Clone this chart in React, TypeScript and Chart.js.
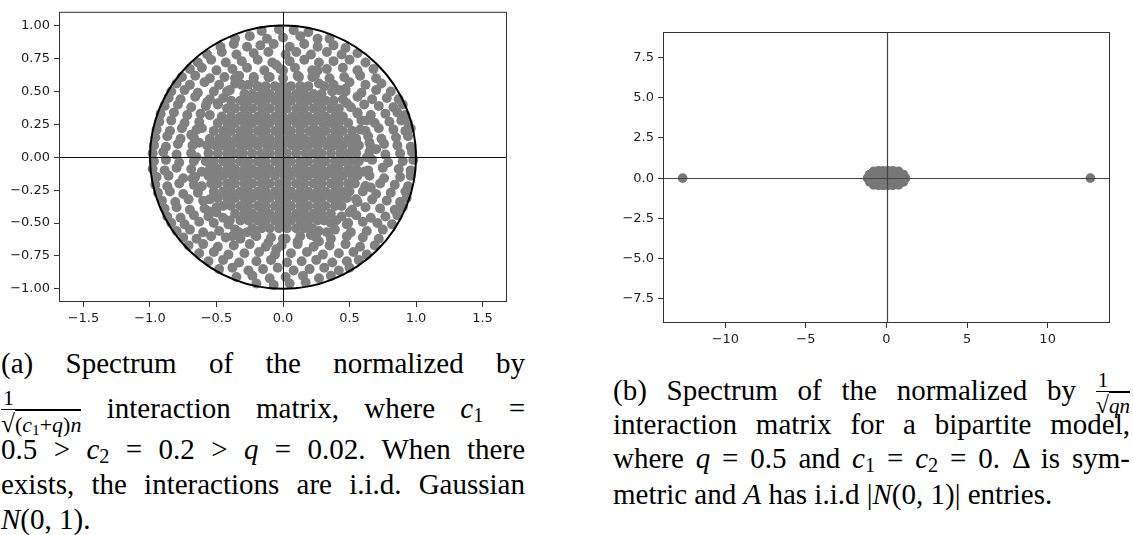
import React, { useEffect, useRef } from 'react';
import { Chart, registerables } from 'chart.js';

Chart.register(...registerables);

// ---------- Panel (a) data ----------
const A_X_TICKS = [-1.5, -1, -0.5, 0, 0.5, 1, 1.5];
const A_Y_TICKS = [-1, -0.75, -0.5, -0.25, 0, 0.25, 0.5, 0.75, 1];
const A_X_LIMITS = [-1.684, 1.684];
const A_Y_LIMITS = [-1.1, 1.105];
const A_CIRCLE_RADIUS = 1;

// dense core, listed row by row
const A_CORE_ROW_Y = [0.03, 0.09, 0.14, 0.2, 0.26, 0.31, 0.37, 0.43, 0.48, 0.54,
  -0.03, -0.09, -0.14, -0.2, -0.26, -0.31, -0.37, -0.43, -0.48, -0.54];
const A_CORE_ROW_X = [
  [-0.56, -0.49, -0.42, -0.36, -0.3, -0.23, -0.16, -0.1, -0.03, 0.03, 0.1, 0.17, 0.23, 0.29, 0.36, 0.43, 0.49, 0.55],
  [-0.57, -0.51, -0.45, -0.39, -0.32, -0.26, -0.19, -0.12, -0.06, 0, 0.07, 0.13, 0.19, 0.26, 0.33, 0.39, 0.45, 0.52, 0.57],
  [-0.55, -0.48, -0.42, -0.35, -0.29, -0.23, -0.16, -0.1, -0.03, 0.04, 0.1, 0.16, 0.23, 0.29, 0.36, 0.42, 0.49, 0.55],
  [-0.52, -0.45, -0.39, -0.32, -0.26, -0.19, -0.13, -0.06, 0, 0.06, 0.13, 0.2, 0.26, 0.32, 0.39, 0.45, 0.52],
  [-0.49, -0.42, -0.36, -0.29, -0.23, -0.16, -0.1, -0.03, 0.03, 0.1, 0.16, 0.23, 0.3, 0.36, 0.42, 0.49],
  [-0.46, -0.39, -0.32, -0.26, -0.19, -0.13, -0.06, 0, 0.07, 0.13, 0.19, 0.26, 0.32, 0.39, 0.45],
  [-0.42, -0.36, -0.29, -0.23, -0.16, -0.1, -0.03, 0.03, 0.1, 0.16, 0.23, 0.29, 0.36, 0.42],
  [-0.39, -0.32, -0.26, -0.19, -0.13, -0.06, 0, 0.06, 0.13, 0.19, 0.26, 0.32, 0.38],
  [-0.29, -0.23, -0.16, -0.1, -0.03, 0.03, 0.1, 0.16, 0.23, 0.29],
  [-0.19, -0.13, -0.06, 0, 0.06, 0.13, 0.19],
  [-0.58, -0.52, -0.45, -0.39, -0.32, -0.26, -0.19, -0.13, -0.06, 0, 0.06, 0.13, 0.19, 0.26, 0.32, 0.39, 0.45, 0.51, 0.57],
  [-0.55, -0.49, -0.42, -0.36, -0.29, -0.23, -0.16, -0.1, -0.03, 0.03, 0.1, 0.16, 0.23, 0.29, 0.36, 0.42, 0.49, 0.55],
  [-0.56, -0.51, -0.45, -0.38, -0.32, -0.26, -0.19, -0.13, -0.06, 0.01, 0.06, 0.13, 0.19, 0.26, 0.32, 0.39, 0.45, 0.52, 0.56],
  [-0.54, -0.49, -0.42, -0.36, -0.29, -0.23, -0.16, -0.1, -0.03, 0.03, 0.1, 0.16, 0.23, 0.29, 0.36, 0.42, 0.49, 0.54],
  [-0.52, -0.45, -0.39, -0.32, -0.26, -0.19, -0.13, -0.06, 0, 0.06, 0.13, 0.19, 0.26, 0.32, 0.39, 0.45, 0.5],
  [-0.49, -0.42, -0.36, -0.29, -0.23, -0.16, -0.1, -0.03, 0.03, 0.1, 0.16, 0.23, 0.29, 0.36, 0.42, 0.48],
  [-0.45, -0.39, -0.32, -0.26, -0.19, -0.13, -0.06, 0, 0.06, 0.13, 0.19, 0.26, 0.32, 0.39, 0.44],
  [-0.36, -0.29, -0.23, -0.16, -0.1, -0.03, 0.03, 0.1, 0.16, 0.23, 0.29, 0.36],
  [-0.32, -0.26, -0.19, -0.13, -0.06, 0, 0.06, 0.13, 0.19, 0.26, 0.31],
  [-0.23, -0.16, -0.1, -0.03, 0.03, 0.1, 0.16, 0.22],
];

// transition band just outside the core
const A_MID = [
  [0.63, 0], [0.65, 0.11], [0.58, 0.21], [0.56, 0.33], [0.48, 0.41], [0.42, 0.51], [0.31, 0.54], [0.22, 0.61], [0.11, 0.62], [0, 0.66],
  [-0.11, 0.61], [-0.22, 0.61], [-0.31, 0.55], [-0.42, 0.5], [-0.49, 0.41], [-0.55, 0.32], [-0.61, 0.22], [-0.63, 0.11], [-0.65, 0],
  [-0.61, -0.11], [-0.61, -0.22], [-0.55, -0.32], [-0.5, -0.42], [-0.4, -0.48], [-0.33, -0.57], [-0.21, -0.59], [-0.11, -0.65], [0, -0.62],
  [0.11, -0.64], [0.21, -0.59], [0.33, -0.57], [0.4, -0.48], [0.5, -0.42], [0.55, -0.32], [0.62, -0.22], [0.61, -0.11],
  [0.7, 0.06], [0.63, 0.28], [0.47, 0.5], [0.26, 0.66], [-0.05, 0.7], [-0.36, 0.6], [-0.57, 0.42], [-0.69, 0.17],
  [-0.68, -0.16], [-0.56, -0.41], [-0.38, -0.6], [-0.05, -0.7], [0.27, -0.64], [0.49, -0.5], [0.66, -0.23],
];

// sparser outer ring of eigenvalues
const A_RING = [
  [-0.16, 0.96], [-0.03, 0.97], [0.08, 0.965], [0.19, 0.95],
  [-0.36, 0.9], [-0.25, 0.92], [-0.12, 0.9], [0, 0.91], [0.13, 0.92], [0.26, 0.9], [0.35, 0.9],
  [-0.47, 0.84], [-0.37, 0.86], [-0.27, 0.84], [-0.17, 0.85], [-0.07, 0.86], [0.05, 0.84], [0.16, 0.86], [0.26, 0.84], [0.38, 0.85], [0.47, 0.83],
  [-0.57, 0.78], [-0.46, 0.8], [-0.35, 0.78], [-0.22, 0.79], [-0.11, 0.8], [0.02, 0.78], [0.1, 0.8], [0.21, 0.78], [0.33, 0.8], [0.44, 0.78], [0.56, 0.79],
  [-0.64, 0.72], [-0.54, 0.74], [-0.43, 0.72], [-0.31, 0.73], [-0.19, 0.74], [-0.08, 0.72], [0.05, 0.73], [0.16, 0.74], [0.27, 0.72], [0.38, 0.73], [0.5, 0.74], [0.62, 0.72],
  [-0.7, 0.67], [-0.61, 0.68], [-0.5, 0.66], [-0.38, 0.67], [-0.27, 0.68], [-0.14, 0.66], [-0.02, 0.67], [0.09, 0.68], [0.22, 0.66], [0.33, 0.67], [0.45, 0.68], [0.56, 0.66], [0.68, 0.67],
  [-0.76, 0.61], [-0.66, 0.62], [-0.55, 0.6], [-0.44, 0.61], [-0.33, 0.62], [-0.22, 0.6], [-0.1, 0.61], [0, 0.6], [0.12, 0.61], [0.24, 0.62], [0.35, 0.6], [0.46, 0.61], [0.58, 0.62], [0.7, 0.6],
  [-0.8, 0.56], [-0.7, 0.55], [-0.59, 0.57], [-0.48, 0.55], [-0.36, 0.56], [-0.26, 0.55], [0.27, 0.56], [0.38, 0.55], [0.5, 0.57], [0.62, 0.55], [0.74, 0.56],
  [-0.84, 0.5], [-0.74, 0.51], [-0.64, 0.49], [-0.52, 0.5], [-0.4, 0.51], [0.37, 0.5], [0.47, 0.52], [0.59, 0.49], [0.7, 0.51], [0.81, 0.5],
  [-0.86, 0.45], [-0.77, 0.44], [-0.66, 0.46], [-0.55, 0.44], [-0.45, 0.45], [0.45, 0.44], [0.56, 0.46], [0.67, 0.44], [0.78, 0.45], [0.87, 0.44],
  [-0.89, 0.39], [-0.79, 0.4], [-0.69, 0.38], [-0.58, 0.39], [-0.49, 0.4], [0.51, 0.38], [0.61, 0.4], [0.72, 0.39], [0.83, 0.38], [0.9, 0.4],
  [-0.92, 0.33], [-0.82, 0.34], [-0.72, 0.32], [-0.62, 0.33], [0.56, 0.34], [0.66, 0.32], [0.77, 0.33], [0.86, 0.34], [0.92, 0.32],
  [-0.93, 0.27], [-0.84, 0.28], [-0.74, 0.26], [-0.63, 0.27], [0.59, 0.28], [0.69, 0.26], [0.8, 0.27], [0.89, 0.28], [0.94, 0.26],
  [-0.95, 0.21], [-0.85, 0.2], [-0.76, 0.22], [-0.65, 0.21], [0.62, 0.2], [0.72, 0.22], [0.83, 0.21], [0.92, 0.2], [0.96, 0.22],
  [-0.96, 0.15], [-0.87, 0.16], [-0.77, 0.14], [-0.67, 0.15], [0.64, 0.16], [0.74, 0.14], [0.85, 0.15], [0.94, 0.16],
  [-0.97, 0.09], [-0.88, 0.08], [-0.79, 0.1], [-0.68, 0.09], [0.66, 0.08], [0.76, 0.1], [0.86, 0.09], [0.96, 0.08],
  [-0.98, 0.03], [-0.9, 0.04], [-0.8, 0.02], [-0.69, 0.03], [0.65, 0.04], [0.77, 0.02], [0.88, 0.03], [0.97, 0.04],
  [-0.97, -0.03], [-0.88, -0.02], [-0.78, -0.04], [-0.67, -0.03], [0.67, -0.02], [0.79, -0.04], [0.9, -0.03], [0.98, -0.02],
  [-0.98, -0.09], [-0.89, -0.1], [-0.8, -0.08], [-0.69, -0.09], [0.64, -0.1], [0.75, -0.08], [0.87, -0.09], [0.96, -0.1],
  [-0.95, -0.15], [-0.86, -0.14], [-0.75, -0.16], [-0.66, -0.15], [0.65, -0.14], [0.76, -0.16], [0.88, -0.15], [0.96, -0.14],
  [-0.96, -0.21], [-0.87, -0.22], [-0.78, -0.2], [-0.67, -0.21], [0.62, -0.22], [0.73, -0.2], [0.84, -0.21], [0.94, -0.22],
  [-0.94, -0.27], [-0.85, -0.26], [-0.75, -0.28], [-0.64, -0.27], [0.6, -0.26], [0.7, -0.28], [0.81, -0.27], [0.92, -0.26],
  [-0.91, -0.33], [-0.81, -0.34], [-0.71, -0.32], [-0.6, -0.33], [0.56, -0.34], [0.67, -0.32], [0.78, -0.33], [0.88, -0.34], [0.93, -0.31],
  [-0.89, -0.39], [-0.8, -0.38], [-0.7, -0.4], [-0.59, -0.39], [-0.5, -0.38], [0.52, -0.4], [0.62, -0.38], [0.73, -0.39], [0.84, -0.4], [0.9, -0.38],
  [-0.87, -0.45], [-0.77, -0.46], [-0.67, -0.44], [-0.56, -0.45], [-0.45, -0.46], [0.44, -0.45], [0.55, -0.44], [0.66, -0.46], [0.77, -0.45], [0.86, -0.44],
  [-0.84, -0.5], [-0.74, -0.51], [-0.63, -0.49], [-0.52, -0.5], [-0.41, -0.51], [0.36, -0.5], [0.48, -0.51], [0.6, -0.49], [0.71, -0.5], [0.82, -0.51],
  [-0.8, -0.56], [-0.7, -0.55], [-0.6, -0.57], [-0.48, -0.56], [-0.36, -0.55], [-0.27, -0.57], [0.27, -0.56], [0.39, -0.55], [0.51, -0.57], [0.63, -0.56], [0.75, -0.55],
  [-0.75, -0.61], [-0.65, -0.62], [-0.54, -0.6], [-0.43, -0.61], [-0.32, -0.62], [-0.2, -0.6], [-0.09, -0.61], [0.02, -0.62], [0.13, -0.6], [0.25, -0.61], [0.36, -0.62], [0.48, -0.6], [0.6, -0.61], [0.72, -0.62],
  [-0.71, -0.67], [-0.6, -0.66], [-0.49, -0.68], [-0.37, -0.67], [-0.25, -0.66], [-0.13, -0.68], [-0.01, -0.67], [0.11, -0.66], [0.23, -0.68], [0.35, -0.67], [0.47, -0.66], [0.58, -0.68], [0.69, -0.67],
  [-0.63, -0.73], [-0.52, -0.72], [-0.41, -0.74], [-0.29, -0.73], [-0.18, -0.72], [-0.06, -0.74], [0.06, -0.73], [0.18, -0.72], [0.3, -0.74], [0.42, -0.73], [0.53, -0.72], [0.63, -0.74],
  [-0.56, -0.79], [-0.45, -0.78], [-0.33, -0.8], [-0.2, -0.79], [-0.09, -0.78], [0.03, -0.8], [0.14, -0.79], [0.25, -0.78], [0.37, -0.8], [0.48, -0.79], [0.57, -0.78],
  [-0.48, -0.85], [-0.38, -0.84], [-0.26, -0.86], [-0.15, -0.85], [-0.04, -0.84], [0.08, -0.86], [0.2, -0.85], [0.31, -0.84], [0.42, -0.86], [0.5, -0.84],
  [-0.35, -0.91], [-0.23, -0.9], [-0.1, -0.92], [0.02, -0.91], [0.15, -0.9], [0.27, -0.92], [0.36, -0.9],
  [-0.2, -0.96], [-0.07, -0.97], [0.05, -0.96], [0.17, -0.95],
];

// ---------- Panel (b) data ----------
const B_X_TICKS = [-10, -5, 0, 5, 10];
const B_Y_TICKS = [-7.5, -5, -2.5, 0, 2.5, 5, 7.5];
const B_X_LIMITS = [-13.87, 13.87];
const B_Y_LIMITS = [-9.02, 9.1];
const B_BULK = [
  [-0.8, 0.42], [-0.5, 0.45], [-0.2, 0.45], [0.1, 0.45], [0.4, 0.45], [0.75, 0.42],
  [-1.05, 0.23], [-0.75, 0.23], [-0.45, 0.23], [-0.15, 0.23], [0.15, 0.23], [0.45, 0.23], [0.75, 0.23], [1.05, 0.23],
  [-1.18, 0], [-0.9, 0], [-0.6, 0], [-0.3, 0], [0, 0], [0.3, 0], [0.6, 0], [0.9, 0], [1.18, 0],
  [-1.05, -0.23], [-0.75, -0.23], [-0.45, -0.23], [-0.15, -0.23], [0.15, -0.23], [0.45, -0.23], [0.75, -0.23], [1.05, -0.23],
  [-0.8, -0.42], [-0.5, -0.45], [-0.2, -0.45], [0.1, -0.45], [0.4, -0.45], [0.75, -0.42],
];
const B_OUTLIERS = [[-12.65, 0], [12.65, 0]];

const TICK_FONT = { family: 'DejaVu Sans', size: 13 };
const TICK_COLOR = '#1e1e1e';

const fmt = (v: number, d: number) => {
  const s = Math.abs(v).toFixed(d);
  return v < 0 ? '\u2212' + s : s;
};

function axis(ticks: number[], lim: number[], decimals: number, fitSize: number, horizontal: boolean, pad: number) {
  return {
    type: 'linear',
    min: lim[0],
    max: lim[1],
    afterBuildTicks: (s: any) => { s.ticks = ticks.map((v) => ({ value: v })); },
    afterFit: (s: any) => { if (horizontal) s.height = fitSize; else s.width = fitSize; },
    grid: { drawOnChartArea: false, drawTicks: true, tickLength: 5, tickColor: '#333', tickWidth: 1 },
    border: { display: false },
    ticks: {
      autoSkip: false, maxRotation: 0, minRotation: 0, padding: pad,
      color: TICK_COLOR, font: TICK_FONT,
      callback: (v: any) => fmt(Number(v), decimals),
    },
  };
}

function overlayPlugin(o: { zeroColor: string; zeroWidth: number; circle?: number }) {
  return {
    id: 'overlay',
    afterDatasetsDraw(chart: any) {
      const { ctx, chartArea, scales } = chart;
      const { left, right, top, bottom } = chartArea;
      const xs = scales.x, ys = scales.y;
      ctx.save();
      ctx.strokeStyle = o.zeroColor;
      ctx.lineWidth = o.zeroWidth;
      const x0 = Math.round(xs.getPixelForValue(0)) + 0.5;
      const y0 = Math.round(ys.getPixelForValue(0)) + 0.5;
      ctx.beginPath();
      ctx.moveTo(left, y0); ctx.lineTo(right, y0);
      ctx.moveTo(x0, top); ctx.lineTo(x0, bottom);
      ctx.stroke();
      if (o.circle) {
        const cx = xs.getPixelForValue(0), cy = ys.getPixelForValue(0);
        const rx = xs.getPixelForValue(o.circle) - cx;
        const ry = cy - ys.getPixelForValue(o.circle);
        ctx.strokeStyle = '#000';
        ctx.lineWidth = 2;
        ctx.beginPath();
        ctx.ellipse(cx, cy, rx, ry, 0, 0, Math.PI * 2);
        ctx.stroke();
      }
      ctx.strokeStyle = '#333';
      ctx.lineWidth = 1;
      ctx.strokeRect(left + 0.5, top + 0.5, right - left - 1, bottom - top - 1);
      ctx.restore();
    },
  };
}

function ChartBox(props: { w: number; h: number; left: number; top: number; config: () => any }) {
  const ref = useRef<HTMLCanvasElement | null>(null);
  useEffect(() => {
    if (!ref.current) return;
    const c = new Chart(ref.current, props.config());
    return () => c.destroy();
  }, []);
  return (
    <canvas
      ref={ref}
      width={props.w}
      height={props.h}
      style={{ position: 'absolute', left: props.left, top: props.top, width: props.w, height: props.h }}
    />
  );
}

const pointsA = () =>
  A_CORE_ROW_Y.flatMap((y, i) => A_CORE_ROW_X[i].map((x) => ({ x, y })))
    .concat(A_MID.map(([x, y]) => ({ x, y })))
    .concat(A_RING.map(([x, y]) => ({ x, y })));

const configA = () => ({
  type: 'scatter',
  data: {
    datasets: [{
      data: pointsA(),
      pointRadius: 5, pointHoverRadius: 5, pointBorderWidth: 0,
      backgroundColor: '#808080', borderColor: '#808080',
    }],
  },
  options: {
    animation: false, responsive: false, events: [],
    layout: { padding: { top: 11, right: 33, left: 0, bottom: 0 } },
    plugins: { legend: { display: false }, tooltip: { enabled: false } },
    scales: {
      x: axis(A_X_TICKS, A_X_LIMITS, 1, 28, true, 4),
      y: axis(A_Y_TICKS, A_Y_LIMITS, 2, 59, false, 4),
    },
  },
  plugins: [overlayPlugin({ zeroColor: '#111', zeroWidth: 1, circle: A_CIRCLE_RADIUS })],
});

const configB = () => ({
  type: 'scatter',
  data: {
    datasets: [{
      data: B_BULK.concat(B_OUTLIERS).map(([x, y]) => ({ x, y })),
      pointRadius: 4.8, pointHoverRadius: 4.8, pointBorderWidth: 0,
      backgroundColor: '#777777', borderColor: '#777777',
    }],
  },
  options: {
    animation: false, responsive: false, events: [],
    layout: { padding: { top: 32, right: 23, left: 0, bottom: 0 } },
    plugins: { legend: { display: false }, tooltip: { enabled: false } },
    scales: {
      x: axis(B_X_TICKS, B_X_LIMITS, 0, 27, true, 4),
      y: axis(B_Y_TICKS, B_Y_LIMITS, 1, 63, false, 4),
    },
  },
  plugins: [overlayPlugin({ zeroColor: '#444', zeroWidth: 1.2 })],
});

// ---------- captions ----------
const Sub = ({ children }: { children: any }) => (
  <sub style={{ fontSize: '0.7em', lineHeight: 0, verticalAlign: '-0.22em', fontStyle: 'normal' }}>{children}</sub>
);
const V = ({ children }: { children: any }) => <i>{children}</i>;

const Frac = ({ num, den, size }: { num: any; den: any; size: number }) => (
  <span style={{ display: 'inline-block', verticalAlign: 'middle', textAlign: 'center', fontSize: size, lineHeight: `${size + 1}px` }}>
    <span style={{ display: 'block', borderBottom: '1.4px solid #000', padding: '0 2px' }}>{num}</span>
    <span style={{ display: 'block', paddingTop: 2 }}>{den}</span>
  </span>
);
const Sqrt = ({ children }: { children: any }) => (
  <span style={{ whiteSpace: 'nowrap' }}>
    <span style={{ fontSize: '1.15em' }}>√</span>
    <span style={{ borderTop: '1.3px solid #000', paddingTop: 1 }}>{children}</span>
  </span>
);

const lineStyle = (left: number, top: number, width: number, justify: boolean): React.CSSProperties => ({
  position: 'absolute', left, top, width, height: 35, lineHeight: '35px',
  textAlign: justify ? 'justify' : 'left',
  textAlignLast: justify ? 'justify' : 'left',
  whiteSpace: 'normal',
});

const CAP_A_LEFT = 1;
const CAP_A_WIDTH = 524;
const CAP_A_TOPS = [346, 386, 432, 467, 502];
const CAP_B_LEFT = 613;
const CAP_B_WIDTH = 517;
const CAP_B_TOPS = [369, 407, 441, 477];

export default function App() {
  return (
    <div style={{ position: 'absolute', left: 0, top: 0, width: 1133, height: 535, overflow: 'hidden', background: '#fff' }}>
      <ChartBox w={540} h={330} left={0} top={0} config={configA} />
      <ChartBox w={533} h={350} left={600} top={0} config={configB} />
      <div style={{ fontFamily: '"Liberation Serif", "DejaVu Serif", serif', fontSize: 29, color: '#000' }}>
        <div style={lineStyle(CAP_A_LEFT, CAP_A_TOPS[0], CAP_A_WIDTH, true)}>(a) Spectrum of the normalized by</div>
        <div style={lineStyle(CAP_A_LEFT, CAP_A_TOPS[1], CAP_A_WIDTH, true)}>
          <Frac size={22} num="1" den={<Sqrt>(<V>c</V><Sub>1</Sub>+<V>q</V>)<V>n</V></Sqrt>} /> interaction matrix, where <V>c</V><Sub>1</Sub> =
        </div>
        <div style={lineStyle(CAP_A_LEFT, CAP_A_TOPS[2], CAP_A_WIDTH, true)}>
          0.5 &gt; <V>c</V><Sub>2</Sub> = 0.2 &gt; <V>q</V> = 0.02. When there
        </div>
        <div style={lineStyle(CAP_A_LEFT, CAP_A_TOPS[3], CAP_A_WIDTH, true)}>exists, the interactions are i.i.d. Gaussian</div>
        <div style={lineStyle(CAP_A_LEFT, CAP_A_TOPS[4], CAP_A_WIDTH, false)}><V>N</V>(0, 1).</div>

        <div style={lineStyle(CAP_B_LEFT, CAP_B_TOPS[0], CAP_B_WIDTH, true)}>
          (b) Spectrum of the normalized by <Frac size={21} num="1" den={<Sqrt><V>qn</V></Sqrt>} />
        </div>
        <div style={lineStyle(CAP_B_LEFT, CAP_B_TOPS[1], CAP_B_WIDTH, true)}>interaction matrix for a bipartite model,</div>
        <div style={lineStyle(CAP_B_LEFT, CAP_B_TOPS[2], CAP_B_WIDTH, true)}>
          where <V>q</V> = 0.5 and <V>c</V><Sub>1</Sub> = <V>c</V><Sub>2</Sub> = 0. Δ is sym-
        </div>
        <div style={lineStyle(CAP_B_LEFT, CAP_B_TOPS[3], CAP_B_WIDTH, false)}>
          metric and <V>A</V> has i.i.d |<V>N</V>(0, 1)| entries.
        </div>
      </div>
    </div>
  );
}
